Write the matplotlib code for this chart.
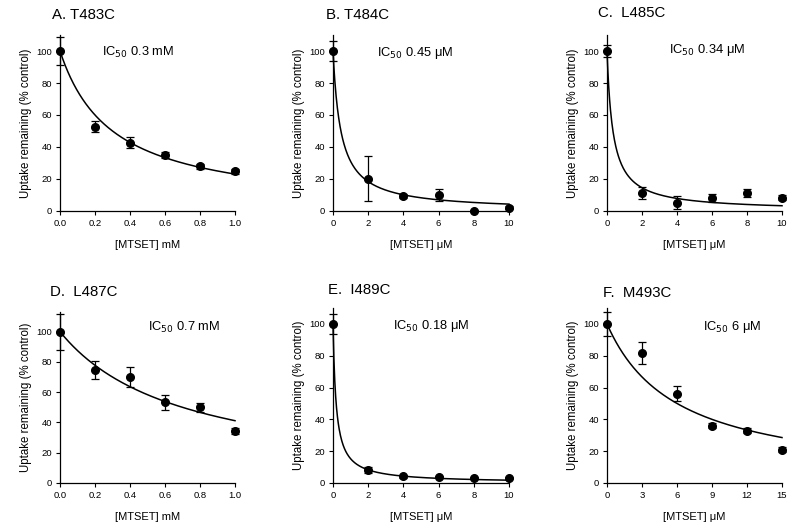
import matplotlib.pyplot as plt
import numpy as np

plt.rcParams['font.family'] = ['Liberation Sans', 'DejaVu Sans']

# Panel titles and IC50 fits
titles = ['A. T483C', 'B. T484C', 'C.  L485C', 'D.  L487C', 'E.  I489C', 'F.  M493C']
ic50 = [0.3, 0.45, 0.34, 0.7, 0.18, 6.0]
ic50_text = ['0.3 mM', '0.45 \u03bcM', '0.34 \u03bcM', '0.7 mM', '0.18 \u03bcM', '6 \u03bcM']
xlabels = ['[MTSET] mM', '[MTSET] \u03bcM', '[MTSET] \u03bcM',
           '[MTSET] mM', '[MTSET] \u03bcM', '[MTSET] \u03bcM']

# Concentrations
x_mm = [0.0, 0.2, 0.4, 0.6, 0.8, 1.0]
x_um10 = [0, 2, 4, 6, 8, 10]
x_um15 = [0, 3, 6, 9, 12, 15]

# Uptake remaining (% control) and SEM
a_y = [100, 52.6, 42.8, 34.9, 28.0, 24.8]
a_err = [8.5, 3.5, 3.5, 2.0, 1.5, 1.5]
b_y = [100, 20.3, 9.4, 9.8, 0.0, 2.0]
b_err = [6.0, 14.0, 1.0, 3.8, 0.5, 1.0]
c_y = [100, 11.5, 5.2, 8.4, 11.5, 8.4]
c_err = [4.0, 3.8, 4.2, 2.5, 2.5, 1.5]
d_y = [100, 74.5, 69.9, 53.4, 49.9, 34.5]
d_err = [12.0, 6.0, 6.5, 5.0, 3.0, 2.0]
e_y = [100, 8.0, 4.2, 3.8, 3.1, 3.1]
e_err = [6.3, 2.0, 0.8, 0.8, 0.5, 0.5]
f_y = [100, 81.8, 56.2, 36.1, 32.9, 21.0]
f_err = [7.5, 7.0, 4.5, 1.5, 1.5, 1.5]

xs = [x_mm, x_um10, x_um10, x_mm, x_um10, x_um15]
ys = [a_y, b_y, c_y, d_y, e_y, f_y]
errs = [a_err, b_err, c_err, d_err, e_err, f_err]
xticks = [x_mm, x_um10, x_um10, x_mm, x_um10, x_um15]
ic_pos = [(0.24, 98.8), (2.5, 98.8), (3.54, 100.6), (0.50, 103), (3.4, 98.7), (8.2, 98)]

W, H = 800, 530
fig = plt.figure(figsize=(8, 5.3), dpi=100)

# axes boxes in pixels: left, y of zero line, width, height, ymax
boxes = [(60, 211, 175, 176, 110), (333, 211, 176, 176, 110), (607, 211, 175, 176, 110),
         (60, 483, 175, 171, 113), (333, 483, 176, 175, 110), (607, 483, 175, 175, 110)]
title_pos = [(52, 15), (326, 15), (598, 13), (50, 292), (328, 290), (603, 293)]

for i in range(6):
    l, y0, w, h, ymax = boxes[i]
    ax = fig.add_axes([l / W, 1 - y0 / H, w / W, h / H])
    xmax = xs[i][-1]
    xx = np.linspace(0, xmax, 400)
    ax.plot(xx, 100 / (1 + xx / ic50[i]), color='black', lw=1.1, clip_on=False)
    ax.errorbar(xs[i], ys[i], yerr=errs[i], fmt='o', color='black', ms=5.5,
                capsize=3.2, elinewidth=0.9, capthick=0.9, clip_on=False, zorder=5)
    ax.set_xlim(0, xmax)
    ax.set_ylim(0, ymax)
    ax.spines['top'].set_visible(False)
    ax.spines['right'].set_visible(False)
    ax.spines['left'].set_linewidth(0.9)
    ax.spines['bottom'].set_linewidth(0.9)
    ax.set_xticks(xticks[i])
    if xmax == 1.0:
        ax.set_xticklabels([f'{v:.1f}' for v in xticks[i]])
    ax.set_yticks([0, 20, 40, 60, 80, 100])
    ax.tick_params(direction='out', length=3, width=0.8, labelsize=6.8, pad=2.5)
    ax.set_xlabel(xlabels[i], fontsize=8, labelpad=9)
    ax.set_ylabel('Uptake remaining (% control)', fontsize=8.3, labelpad=3)
    ax.text(ic_pos[i][0], ic_pos[i][1], 'IC$_{50}$ ' + ic50_text[i], fontsize=9.3,
            ha='left', va='center')
    fig.text(title_pos[i][0] / W, 1 - title_pos[i][1] / H, titles[i], fontsize=10.8,
             ha='left', va='center')

fig.savefig('out.png', dpi=100)
